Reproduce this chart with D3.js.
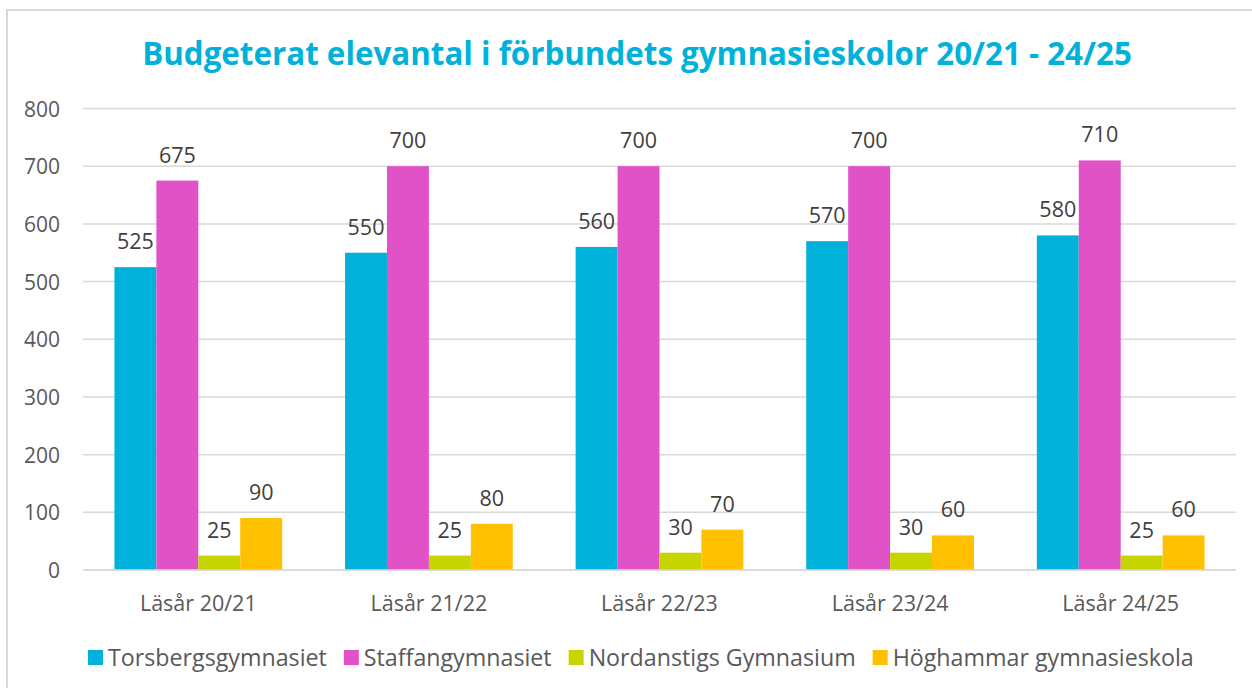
<!DOCTYPE html>
<html>
<head>
<meta charset="utf-8">
<script src="https://cdn.jsdelivr.net/npm/d3@7/dist/d3.min.js"></script>
<style>
  html, body { margin: 0; padding: 0; background: #fff; }
  svg { display: block; }
  text { font-family: "Open Sans", "Noto Sans", sans-serif; }
</style>
</head>
<body>
<svg id="chart" width="1252" height="688"></svg>
<script>
const title = "Budgeterat elevantal i förbundets gymnasieskolor 20/21 - 24/25";
const categories = ["Läsår 20/21", "Läsår 21/22", "Läsår 22/23", "Läsår 23/24", "Läsår 24/25"];
const seriesNames = ["Torsbergsgymnasiet", "Staffangymnasiet", "Nordanstigs Gymnasium", "Höghammar gymnasieskola"];
const torsberg = [525, 550, 560, 570, 580];
const staffan = [675, 700, 700, 700, 710];
const nordanstig = [25, 25, 30, 30, 25];
const hoghammar = [90, 80, 70, 60, 60];
const yTicks = [0, 100, 200, 300, 400, 500, 600, 700, 800];
const colors = ["#00B2DA", "#E052C6", "#C8D400", "#FFC000"];

const seriesValues = [torsberg, staffan, nordanstig, hoghammar];

const svg = d3.select("#chart");
const W = 1252, H = 688;
const plot = { left: 83, right: 1236, top: 108.5, bottom: 570 };

// chart border
svg.append("rect")
  .attr("x", 7).attr("y", 10)
  .attr("width", W + 10).attr("height", H + 10)
  .attr("fill", "#fff").attr("stroke", "#D9D9D9").attr("stroke-width", 2);

function fitText(sel, targetWidth, baseSize) {
  sel.attr("font-size", baseSize);
  const w = sel.node().getComputedTextLength();
  sel.attr("font-size", baseSize * targetWidth / w);
  return baseSize * targetWidth / w;
}

// title
const t = svg.append("text")
  .attr("x", 637).attr("y", 65)
  .attr("text-anchor", "middle")
  .attr("font-weight", "bold")
  .attr("fill", "#00B2DA")
  .text(title);
fitText(t, 990, 32);

const y = d3.scaleLinear().domain([0, 800]).range([plot.bottom, plot.top]);
const x0 = d3.scaleBand().domain(categories).range([plot.left, plot.right]).padding(0);
const band = x0.bandwidth();
const barW = band / (4 + 1.5);
const x1 = d3.scaleBand().domain(seriesNames)
  .range([barW * 0.75, band - barW * 0.75]).padding(0);

// gridlines
const grid = svg.append("g");
grid.selectAll("line").data(yTicks).join("line")
  .attr("x1", plot.left).attr("x2", plot.right)
  .attr("y1", d => y(d)).attr("y2", d => y(d))
  .attr("stroke", "#D9D9D9").attr("stroke-width", 1.5);

// y axis labels
const yAxis = d3.axisLeft(y).tickValues(yTicks).tickSize(0).tickPadding(0);
const yg = svg.append("g").attr("transform", `translate(60,0)`).call(yAxis);
yg.select(".domain").remove();
yg.selectAll("text")
  .attr("font-size", 21)
  .attr("fill", "#595959")
  .attr("font-family", "'Open Sans', sans-serif")
  .attr("dy", "0.36em");

// bars
const groups = svg.append("g").selectAll("g").data(categories).join("g")
  .attr("transform", d => `translate(${x0(d)},0)`);

groups.each(function(cat, ci) {
  const g = d3.select(this);
  const data = seriesNames.map((s, si) => ({ s, si, v: seriesValues[si][ci] }));
  g.selectAll("rect").data(data).join("rect")
    .attr("x", d => x1(d.s))
    .attr("width", x1.bandwidth())
    .attr("y", d => y(d.v))
    .attr("height", d => y(0) - y(d.v))
    .attr("fill", d => colors[d.si]);
  g.selectAll("text").data(data).join("text")
    .attr("x", d => x1(d.s) + x1.bandwidth() / 2)
    .attr("y", d => y(d.v) - 18)
    .attr("text-anchor", "middle")
    .attr("font-size", 21.5)
    .attr("fill", "#404040")
    .text(d => d.v);
});

// baseline
svg.append("line")
  .attr("x1", plot.left).attr("x2", plot.right)
  .attr("y1", y(0)).attr("y2", y(0))
  .attr("stroke", "#D9D9D9").attr("stroke-width", 1.5);

// x axis labels
const xAxis = d3.axisBottom(x0).tickSize(0).tickPadding(0);
const xg = svg.append("g").attr("transform", `translate(0,${plot.bottom})`).call(xAxis);
xg.select(".domain").remove();
xg.selectAll("text")
  .attr("font-size", 21.5)
  .attr("fill", "#595959")
  .attr("font-family", "'Open Sans', sans-serif")
  .attr("dy", 0)
  .attr("y", 41);

// legend
const legend = svg.append("g");
let lx = 88;
let legendSize = null;
seriesNames.forEach((name, i) => {
  legend.append("rect")
    .attr("x", lx).attr("y", 650)
    .attr("width", 15).attr("height", 15)
    .attr("fill", colors[i]);
  const tx = legend.append("text")
    .attr("x", lx + 20).attr("y", 666)
    .attr("fill", "#595959")
    .text(name);
  if (legendSize === null) legendSize = fitText(tx, 219, 22);
  else tx.attr("font-size", legendSize);
  const w = tx.node().getComputedTextLength();
  lx = lx + 20 + w + 17;
});
</script>
</body>
</html>
